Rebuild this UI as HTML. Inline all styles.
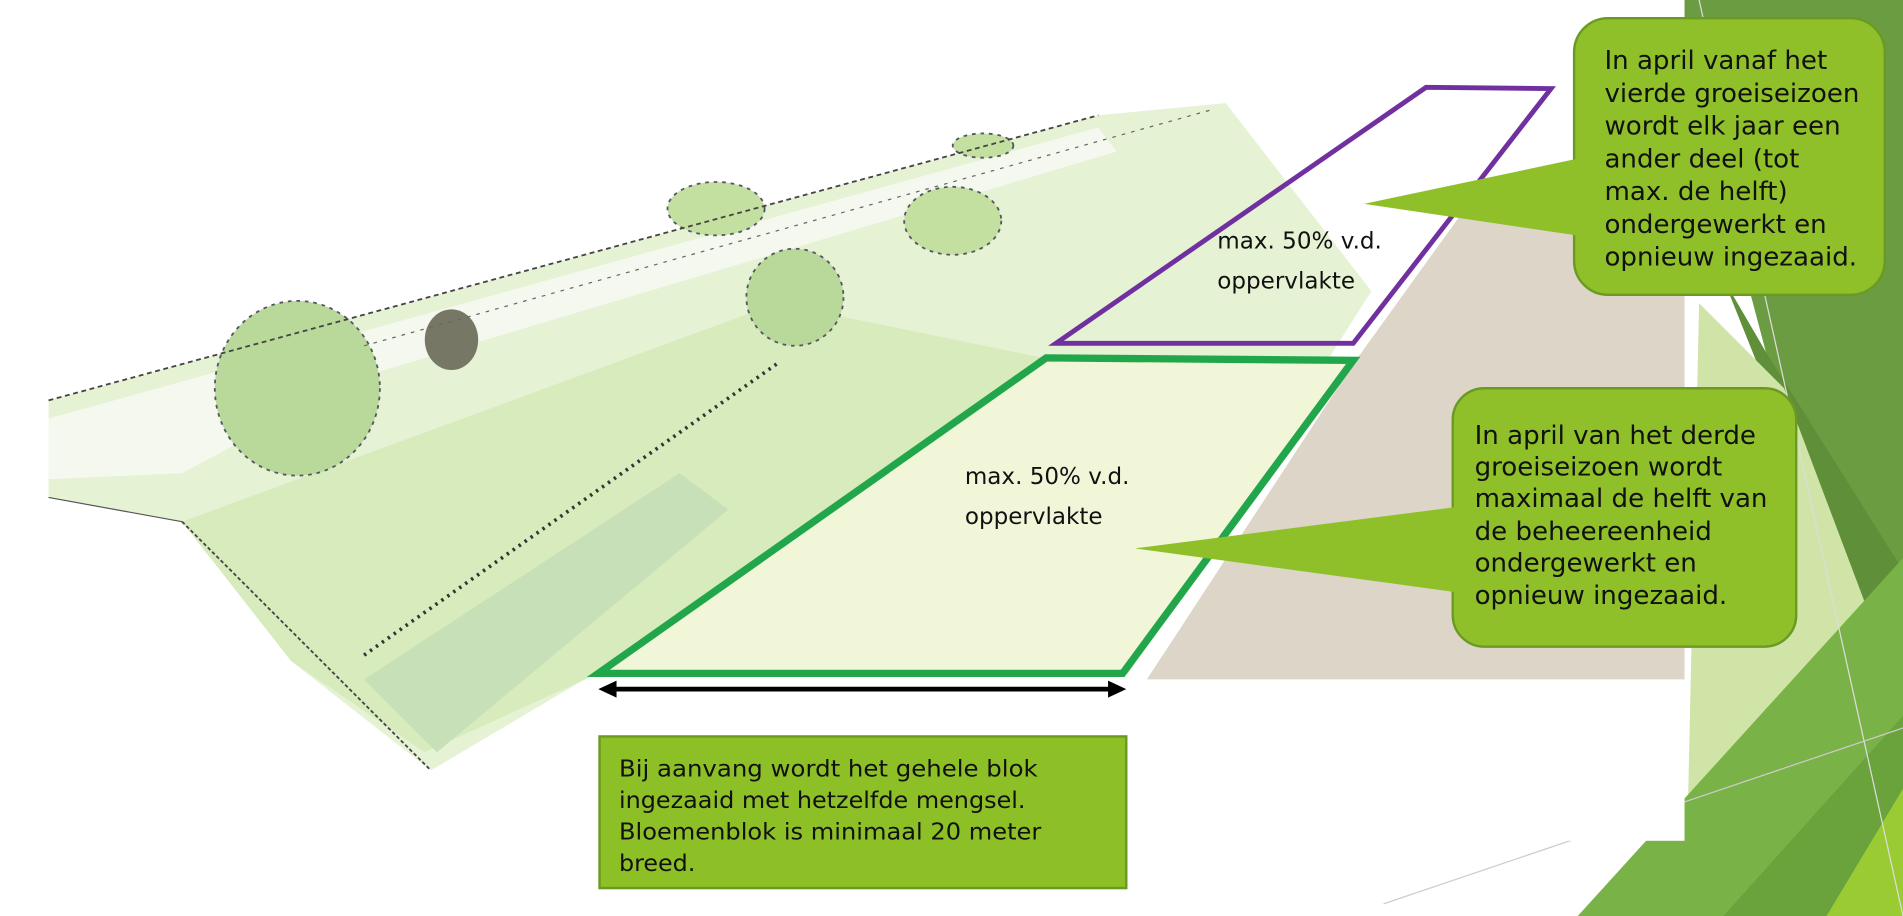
<!DOCTYPE html>
<html><head><meta charset="utf-8">
<style>
html,body{margin:0;padding:0;background:#fff;overflow:hidden}
svg{display:block}
text{font-family:"DejaVu Sans","Liberation Sans",sans-serif;fill:#111}
</style></head>
<body>
<svg width="1903" height="916" viewBox="0 0 1568 755" preserveAspectRatio="none" xmlns="http://www.w3.org/2000/svg">
<rect width="1568" height="755" fill="#fff"/>
<!-- right decorative greens -->
<polygon points="1378,0 1568,0 1568,520 1455,290" fill="#6b9c42"/>
<polygon points="1420,230 1568,600 1568,470 1455,290" fill="#5f8f38"/>
<polygon points="1400,250 1470,320 1568,580 1390,700" fill="#cfe4a6"/>
<polygon points="1300,755 1568,460 1568,755" fill="#79b247"/>
<polygon points="1420,755 1568,590 1568,755" fill="#6aa33c"/>
<polygon points="1505,755 1568,650 1568,755" fill="#9acb33"/>
<line x1="1400" y1="0" x2="1568" y2="755" stroke="#ddd" stroke-width="1"/>
<line x1="1140" y1="745" x2="1568" y2="600" stroke="#ccc" stroke-width="1"/>
<!-- picture area -->
<rect x="0" y="0" width="1388" height="693" fill="#fff"/>
<!-- dike / grass -->
<polygon points="40,330 905,95 1010,85 1130,240 930,555 490,555 355,635 240,545 150,430 40,410" fill="#e6f2d4"/>
<polygon points="40,345 905,105 920,125 300,310 150,390 40,395" fill="#f4f8ee"/>
<polygon points="150,430 640,250 860,295 493,555 350,620 240,545" fill="#d7ebbc"/>
<polygon points="300,560 560,390 600,420 360,620" fill="#c8e0b8"/>
<polygon points="493,555 862,295 1115,297 925,555" fill="#f1f6d8"/>
<polygon points="945,560 1115,300 1205,175 1300,150 1388,150 1388,560" fill="#ddd6c8"/>
<!-- shrubs -->
<ellipse cx="245" cy="320" rx="68" ry="72" fill="#b9d99a" stroke="#556" stroke-width="1.5" stroke-dasharray="3 4"/>
<ellipse cx="655" cy="245" rx="40" ry="40" fill="#b9d99a" stroke="#556" stroke-width="1.5" stroke-dasharray="3 4"/>
<ellipse cx="785" cy="182" rx="40" ry="28" fill="#c4e0a0" stroke="#556" stroke-width="1.5" stroke-dasharray="3 4"/>
<ellipse cx="590" cy="172" rx="40" ry="22" fill="#c4e0a0" stroke="#556" stroke-width="1.5" stroke-dasharray="3 4"/>
<ellipse cx="810" cy="120" rx="25" ry="10" fill="#c4e0a0" stroke="#556" stroke-width="1.5" stroke-dasharray="3 4"/>
<ellipse cx="372" cy="280" rx="22" ry="25" fill="#776"/>
<line x1="40" y1="330" x2="905" y2="95" stroke="#444" stroke-width="1.5" stroke-dasharray="4 3"/>
<line x1="300" y1="285" x2="1000" y2="90" stroke="#666" stroke-width="1" stroke-dasharray="3 5"/>
<line x1="150" y1="430" x2="40" y2="410" stroke="#555" stroke-width="1"/>
<line x1="150" y1="430" x2="355" y2="635" stroke="#444" stroke-width="1.5" stroke-dasharray="3 2"/>
<line x1="300" y1="540" x2="640" y2="300" stroke="#333" stroke-width="3" stroke-dasharray="2 4"/>
<!-- purple -->
<polygon points="870,283 1175,72 1278,73 1115,283" fill="none" stroke="#7030a0" stroke-width="4"/>
<!-- green -->
<polygon points="493,555 862,295 1115,297 925,555" fill="none" stroke="#22a64b" stroke-width="6"/>
<!-- arrow -->
<line x1="505" y1="568" x2="916" y2="568" stroke="#000" stroke-width="4"/>
<polygon points="493,568 508,561 508,575" fill="#000"/>
<polygon points="928,568 913,561 913,575" fill="#000"/>
<!-- labels -->
<text x="795" y="399" font-size="19">max. 50% v.d.</text>
<text x="795" y="432" font-size="19">oppervlakte</text>
<text x="1003" y="205" font-size="19">max. 50% v.d.</text>
<text x="1003" y="238" font-size="19">oppervlakte</text>
<!-- callout 1 -->
<rect x="1297" y="15" width="256" height="228" rx="28" fill="#8fc02a" stroke="#6a9a22" stroke-width="2"/>
<polygon points="1124,168 1299,131 1299,194" fill="#8fc02a"/>
<g font-size="21.5">
<text x="1322" y="57">In april vanaf het</text>
<text x="1322" y="84">vierde groeiseizoen</text>
<text x="1322" y="111">wordt elk jaar een</text>
<text x="1322" y="138">ander deel (tot</text>
<text x="1322" y="165">max. de helft)</text>
<text x="1322" y="192">ondergewerkt en</text>
<text x="1322" y="219">opnieuw ingezaaid.</text>
</g>
<!-- callout 2 -->
<rect x="1197" y="320" width="283" height="213" rx="26" fill="#8fc02a" stroke="#6a9a22" stroke-width="2"/>
<polygon points="935,452 1199,418 1199,488" fill="#8fc02a"/>
<g font-size="21.5">
<text x="1215" y="366">In april van het derde</text>
<text x="1215" y="392">groeiseizoen wordt</text>
<text x="1215" y="418">maximaal de helft van</text>
<text x="1215" y="445">de beheereenheid</text>
<text x="1215" y="471">ondergewerkt en</text>
<text x="1215" y="498">opnieuw ingezaaid.</text>
</g>
<!-- bottom box -->
<rect x="494" y="607" width="434" height="125" fill="#8dbf26" stroke="#6a9a22" stroke-width="2"/>
<g font-size="19" font-family="Liberation Sans, sans-serif">
<text x="510" y="640" textLength="345" lengthAdjust="spacingAndGlyphs">Bij aanvang wordt het gehele blok</text>
<text x="510" y="666" textLength="335" lengthAdjust="spacingAndGlyphs">ingezaaid met hetzelfde mengsel.</text>
<text x="510" y="692" textLength="348" lengthAdjust="spacingAndGlyphs">Bloemenblok is minimaal 20 meter</text>
<text x="510" y="718" textLength="63" lengthAdjust="spacingAndGlyphs">breed.</text>
</g>
</svg>
</body></html>
